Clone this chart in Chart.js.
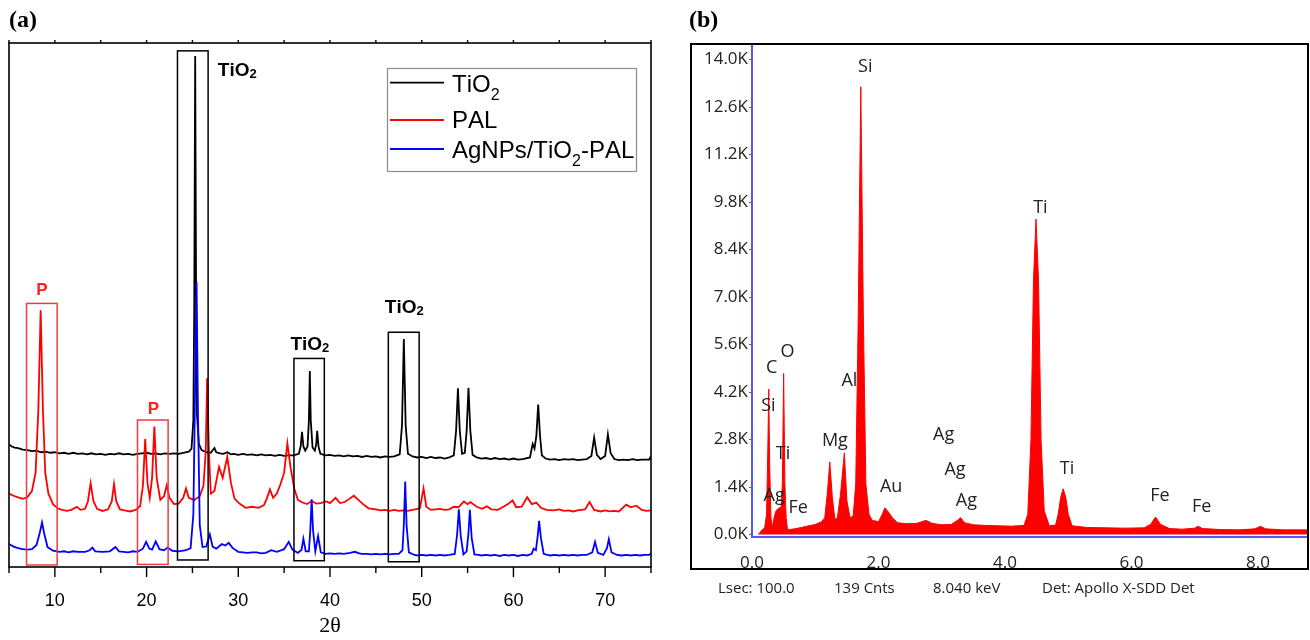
<!DOCTYPE html>
<html>
<head>
<meta charset="utf-8">
<script src="https://cdn.jsdelivr.net/npm/chart.js@4.4.1/dist/chart.umd.min.js"></script>
<style>
html,body{margin:0;padding:0;background:#fff;width:1310px;height:640px;overflow:hidden;}
#wrapA{position:absolute;left:0;top:0;width:660px;height:640px;}
#wrapB{position:absolute;left:690px;top:0;width:620px;height:640px;}
.plabel{position:absolute;font-family:'Liberation Serif','Times New Roman',serif;font-weight:bold;font-size:24px;line-height:1;color:#000;}
.foot{position:absolute;top:580px;font-family:'Open Sans',sans-serif;font-size:15px;color:#222;line-height:1;white-space:nowrap;}
</style>
</head>
<body>
<div id="wrapA"><canvas id="cA" width="660" height="640"></canvas></div>
<div id="wrapB"><canvas id="cB" width="620" height="640"></canvas></div>
<div class="plabel" style="left:9px;top:7px">(a)</div>
<div class="plabel" style="left:689px;top:7px">(b)</div>
<div class="foot" style="left:718px">Lsec: 100.0</div>
<div class="foot" style="left:834px">139 Cnts</div>
<div class="foot" style="left:933px">8.040 keV</div>
<div class="foot" style="left:1042px">Det: Apollo X-SDD Det</div>
<script>
// ---------------- DATA: panel (a) XRD (2θ, stacked intensity in arbitrary units) ----------------
const xrdTicks = [10, 20, 30, 40, 50, 60, 70];
const seriesNames = ['TiO₂', 'PAL', 'AgNPs/TiO₂-PAL'];
const seriesColors = ['#000000', '#ff0000', '#0000ff'];

const tio2 = [
  [5.0,23.4],[5.3,23.0],[5.6,22.8],[6.0,22.7],[6.5,22.4],[7.0,22.3],[7.5,22.1],[8.0,22.2],[8.5,21.9],[9.0,22.0],
  [9.5,21.8],[10,21.9],[10.5,21.7],[11,21.8],[11.5,21.6],[12,21.8],[12.5,21.6],[13,21.7],[13.5,21.5],[14,21.7],
  [14.5,21.5],[15,21.6],[15.5,21.4],[16,21.6],[16.5,21.5],[17,21.7],[17.5,21.5],[18,21.6],[18.5,21.4],[19,21.6],
  [19.5,21.7],[20,21.8],[20.5,21.6],[21,21.7],[21.5,21.5],[22,21.7],[22.5,21.6],[23,21.7],[23.5,21.6],[24,21.8],
  [24.6,22.0],[24.9,22.6],[25.1,28.0],[25.2,50.0],[25.3,97.5],[25.4,52.0],[25.5,29.0],[25.7,23.5],[26.0,22.3],
  [26.5,21.9],[27.0,21.8],[27.4,22.7],[27.6,21.9],[28.0,21.7],[28.4,21.6],[28.8,21.9],[29.2,21.5],[29.5,21.6],
  [30,21.4],[30.5,21.6],[31,21.4],[31.5,21.5],[32,21.3],[32.5,21.5],[33,21.3],[33.5,21.4],[34,21.2],[34.5,21.4],
  [35,21.2],[35.5,21.3],[36,21.3],[36.6,21.6],[36.8,23.0],[36.95,25.8],[37.1,23.0],[37.3,22.2],[37.55,23.0],
  [37.7,28.0],[37.8,37.4],[37.9,28.0],[38.1,22.8],[38.35,22.2],[38.5,23.5],[38.6,26.0],[38.75,23.0],[38.95,21.6],
  [39.5,21.3],[40,21.4],[40.5,21.2],[41,21.3],[41.5,21.1],[42,21.3],[42.5,21.1],[43,21.2],[43.5,21.0],[44,21.2],
  [44.5,21.0],[45,21.1],[45.5,20.9],[46,21.1],[46.5,21.0],[47,21.1],[47.6,21.5],[47.85,27.0],[48.05,43.5],
  [48.25,27.0],[48.5,21.6],[49,21.1],[49.5,20.9],[50,21.0],[50.5,20.8],[51,21.0],[51.5,20.8],[52,20.9],[52.5,20.7],
  [53,20.9],[53.5,21.3],[53.75,26.0],[53.95,34.1],[54.15,26.0],[54.4,21.6],[54.7,21.8],[54.9,26.0],[55.1,34.2],
  [55.3,26.0],[55.55,21.4],[56,20.9],[56.5,20.7],[57,20.8],[57.5,20.6],[58,20.8],[58.5,20.6],[59,20.7],[59.5,20.5],
  [60,20.7],[60.5,20.5],[61,20.6],[61.8,20.9],[62.1,23.5],[62.3,22.6],[62.5,25.0],[62.7,31.0],[62.9,25.0],
  [63.1,21.3],[63.5,20.7],[64,20.5],[64.5,20.6],[65,20.4],[65.5,20.6],[66,20.5],[66.5,20.6],[67,20.4],[67.5,20.5],
  [68,20.6],[68.5,21.2],[68.8,24.7],[69.1,21.4],[69.5,20.6],[70.0,21.2],[70.3,25.3],[70.6,21.7],[71,20.6],
  [71.5,20.4],[72,20.5],[72.5,20.4],[73,20.6],[73.5,20.4],[74,20.5],[74.8,20.5],[75,21.2]
];

const pal = [
  [5.0,14.0],[5.5,13.6],[6.0,13.3],[6.5,13.0],[7.0,13.3],[7.5,14.5],[7.9,18.0],[8.2,30.0],[8.45,49.0],[8.7,30.0],
  [8.95,18.0],[9.3,14.0],[9.8,12.0],[10.3,11.2],[10.8,10.9],[11.3,10.7],[11.8,10.9],[12.4,11.5],[12.8,10.9],
  [13.3,11.1],[13.6,12.5],[13.9,16.0],[14.2,12.6],[14.6,11.1],[15.2,10.7],[15.8,11.0],[16.2,12.5],[16.45,15.8],
  [16.7,12.5],[17.1,11.0],[17.6,10.8],[18.2,10.6],[18.8,10.9],[19.3,11.6],[19.6,15.5],[19.85,24.4],[20.1,16.0],
  [20.35,13.2],[20.6,17.0],[20.85,26.8],[21.1,17.0],[21.5,12.8],[21.9,13.5],[22.2,15.6],[22.5,13.2],[23.0,12.0],
  [23.5,12.1],[24.0,13.2],[24.3,15.0],[24.6,13.2],[25.2,12.8],[25.8,13.5],[26.2,15.5],[26.45,22.0],[26.6,36.0],
  [26.8,22.0],[27.0,14.0],[27.4,14.5],[27.9,19.1],[28.3,17.0],[28.8,21.0],[29.2,16.0],[29.6,13.0],[30.2,12.0],
  [30.8,11.3],[31.5,11.5],[32.2,11.3],[32.8,11.8],[33.1,13.0],[33.45,14.8],[33.8,13.2],[34.2,14.0],[34.6,15.8],
  [35.0,18.0],[35.35,23.6],[35.7,19.0],[36.1,15.0],[36.5,12.8],[37.0,12.3],[37.5,12.0],[38.0,12.6],[38.5,12.1],
  [39.0,12.2],[39.6,12.5],[40.0,12.2],[40.6,13.2],[41.1,12.2],[41.6,12.4],[42.1,13.0],[42.6,13.6],[43.1,12.8],
  [43.6,12.0],[44.2,11.2],[45,11.0],[45.5,10.8],[46,10.9],[46.5,10.7],[47,10.9],[47.5,10.7],[48,10.8],[48.5,10.7],
  [49,10.9],[49.8,11.2],[50.2,15.0],[50.5,11.5],[51,10.9],[51.5,11.0],[52,11.1],[52.5,10.9],[53,11.0],[53.5,11.5],
  [54,11.4],[54.6,12.5],[55.0,12.0],[55.3,12.4],[56,11.5],[56.6,11.1],[57.1,11.6],[57.6,11.0],[58.3,10.9],
  [59.0,11.6],[59.4,12.0],[59.9,12.7],[60.3,11.4],[60.9,11.5],[61.5,13.3],[62.0,12.0],[62.5,12.3],[63.0,11.3],
  [63.6,10.9],[64.3,10.8],[65,11.0],[65.5,10.7],[66,10.8],[66.5,10.6],[67,10.8],[67.8,11.0],[68.3,12.4],
  [68.8,10.9],[69.5,10.6],[70,10.8],[70.5,10.6],[71,10.7],[71.5,10.6],[72.3,11.9],[72.8,11.4],[73.4,11.7],
  [74,10.9],[74.5,10.7],[75,10.8]
];

const agTiPal = [
  [5.0,4.4],[5.5,3.9],[6.0,3.6],[6.5,3.4],[7.0,3.3],[7.5,3.4],[8.0,4.2],[8.35,6.5],[8.6,8.5],[8.85,6.3],[9.2,3.8],
  [9.8,3.1],[10.5,2.9],[11,3.0],[11.5,2.8],[12,3.0],[12.5,2.9],[13.3,2.9],[13.8,3.2],[14.1,3.7],[14.4,3.0],
  [15.2,2.9],[16.0,3.0],[16.6,3.8],[17.0,3.0],[17.5,2.9],[18,2.8],[18.5,3.0],[19,2.9],[19.6,3.5],[19.95,4.8],
  [20.3,3.5],[20.6,3.3],[21.0,4.9],[21.4,3.4],[21.9,3.2],[22.3,3.7],[22.8,3.1],[23.5,3.0],[24.3,3.2],[24.8,3.6],
  [25.1,10.0],[25.3,35.0],[25.45,54.4],[25.6,30.0],[25.8,8.0],[26.1,3.8],[26.5,3.9],[26.9,6.2],[27.2,3.9],
  [27.6,3.5],[28.2,4.4],[28.6,4.1],[28.95,4.6],[29.4,3.6],[30,2.9],[30.5,2.8],[31,2.7],[31.5,2.8],[32,2.8],
  [32.5,2.6],[33,2.7],[33.6,3.2],[34.2,2.9],[35.0,3.4],[35.5,4.8],[35.9,3.3],[36.5,2.7],[36.9,3.3],[37.1,5.4],
  [37.35,3.0],[37.7,3.0],[37.85,7.0],[38.0,12.9],[38.15,7.0],[38.4,3.0],[38.7,5.9],[39.0,2.8],[39.5,2.5],
  [40,2.6],[40.5,2.5],[41,2.6],[41.5,2.5],[42.2,2.7],[42.7,2.9],[43.2,2.6],[43.5,2.5],[44,2.5],[44.5,2.4],
  [45,2.5],[45.5,2.4],[46,2.5],[46.5,2.4],[47,2.5],[47.5,2.5],[47.9,3.2],[48.05,8.0],[48.2,16.3],[48.35,8.0],
  [48.6,2.8],[49.2,2.3],[49.6,2.2],[50,2.3],[50.5,2.2],[51,2.3],[51.5,2.2],[52,2.3],[52.5,2.2],[53,2.3],
  [53.6,2.5],[53.85,6.0],[54.05,11.0],[54.25,6.0],[54.55,2.4],[54.9,3.0],[55.1,6.5],[55.25,10.9],[55.45,5.5],
  [55.75,2.4],[56.2,2.3],[56.5,2.2],[57,2.3],[57.5,2.2],[58,2.3],[58.5,2.1],[59,2.3],[59.5,2.2],[60,2.3],
  [60.5,2.1],[61,2.3],[61.5,2.2],[62.0,2.5],[62.2,3.5],[62.45,3.2],[62.65,6.0],[62.8,8.8],[63.0,5.5],[63.3,2.5],
  [63.7,2.3],[64,2.2],[64.5,2.3],[65,2.2],[65.5,2.3],[66,2.2],[66.5,2.3],[67,2.2],[67.5,2.3],[68,2.3],[68.6,2.8],
  [68.9,4.8],[69.2,2.7],[69.8,2.3],[70.2,3.6],[70.4,5.3],[70.7,2.8],[71.3,2.3],[71.8,2.2],[72.3,2.3],[72.8,2.2],
  [73.3,2.3],[73.8,2.2],[74.3,2.3],[74.8,2.3],[75,2.6]
];

// ---------------- DATA: panel (b) EDS (keV, counts) ----------------
const edsKeVTicks = [0, 2, 4, 6, 8];
const edsCountTicks = [0, 1400, 2800, 4200, 5600, 7000, 8400, 9800, 11200, 12600, 14000];
const eds = [
  [0.10,0],[0.15,120],[0.20,200],[0.23,600],[0.25,2500],[0.265,4290],[0.28,2000],[0.30,500],[0.32,220],
  [0.35,500],[0.38,700],[0.42,780],[0.46,800],[0.48,1500],[0.50,4750],[0.52,1500],[0.54,500],[0.56,160],
  [0.60,150],[0.70,180],[0.80,220],[0.90,260],[1.00,300],[1.10,380],[1.15,500],[1.19,1200],[1.23,2140],
  [1.27,1100],[1.31,450],[1.35,500],[1.40,1200],[1.46,2410],[1.50,1000],[1.55,500],[1.60,550],[1.64,1500],
  [1.68,6500],[1.72,13200],[1.76,6500],[1.80,1500],[1.85,600],[1.90,420],[2.00,380],[2.06,600],[2.10,790],
  [2.15,680],[2.22,500],[2.30,350],[2.45,320],[2.60,330],[2.75,420],[2.85,330],[3.00,290],[3.15,300],[3.25,420],
  [3.30,500],[3.36,350],[3.50,290],[3.70,270],[3.90,260],[4.10,250],[4.30,270],[4.36,600],[4.41,2800],
  [4.45,7500],[4.49,9300],[4.53,7500],[4.57,2800],[4.62,700],[4.70,260],[4.80,280],[4.84,600],[4.88,1100],
  [4.92,1350],[4.96,1100],[5.00,600],[5.06,260],[5.30,210],[5.60,200],[5.90,190],[6.20,200],[6.30,300],
  [6.38,520],[6.46,300],[6.60,180],[6.80,160],[7.00,190],[7.05,250],[7.12,180],[7.40,150],[7.70,140],
  [7.95,170],[8.04,245],[8.12,170],[8.40,140],[8.79,140]
];
const edsPeakNames = ['Si','Ti','C','O','Si','Al','Mg','Ti','Ag','Fe','Au','Ag','Ag','Ag','Ti','Fe','Fe'];

// ---------------- annotation layout (not data) ----------------
const xrdBoxes = [
  {x0:6.91, x1:10.25, y0:0.38, y1:50.3, c:'rgb(240,60,60)'},
  {x0:19.01, x1:22.35, y0:0.5, y1:28.05, c:'rgb(240,60,60)'},
  {x0:23.37, x1:26.71, y0:1.34, y1:98.5, c:'#000'},
  {x0:36.07, x1:39.38, y0:1.2, y1:39.8, c:'#000'},
  {x0:46.36, x1:49.72, y0:1.0, y1:44.8, c:'#000'}
];
const xrdLabels = [
  {t:'P', x:8.58, y:51.9, align:'center', c:'#ff2020', size:17},
  {t:'P', x:20.74, y:29.2, align:'center', c:'#ff2020', size:17},
  {t:'TiO₂', x:27.77, y:93.7, align:'left', c:'#000', size:19},
  {t:'TiO₂', x:37.8, y:41.5, align:'center', c:'#000', size:19},
  {t:'TiO₂', x:48.1, y:48.5, align:'center', c:'#000', size:19}
];
const edsLabelPos = [
  [1.79,13800],[4.56,9640],[0.31,4912],[0.56,5373],[0.26,3801],[1.54,4519],[1.31,2750],[0.49,2387],
  [0.35,1149],[0.73,786],[2.20,1405],[3.03,2947],[3.21,1895],[3.39,982],[4.98,1936],[6.45,1149],[7.11,815]
];

function richWidth(ctx, text, font, subFont) {
  let w = 0;
  for (const ch of text) {
    const sub = ch === '₂';
    ctx.font = sub ? subFont : font;
    w += ctx.measureText(sub ? '2' : ch).width;
  }
  return w;
}
function drawRich(ctx, text, x, yBase, font, subFont, subDy, align) {
  const w = richWidth(ctx, text, font, subFont);
  let cx = align === 'center' ? x - w / 2 : x;
  ctx.textAlign = 'left';
  ctx.textBaseline = 'alphabetic';
  for (const ch of text) {
    const sub = ch === '₂';
    const s = sub ? '2' : ch;
    ctx.font = sub ? subFont : font;
    ctx.fillText(s, cx, yBase + (sub ? subDy : 0));
    cx += ctx.measureText(s).width;
  }
}

const xrdDecor = {
  id: 'xrdDecor',
  afterDraw(chart) {
    const {ctx, chartArea: a, scales: {x, y}} = chart;
    ctx.save();
    ctx.strokeStyle = '#000';
    ctx.lineWidth = 1.6;
    ctx.strokeRect(a.left, a.top, a.right - a.left, a.bottom - a.top);
    ctx.lineWidth = 1.4;
    for (let v = 5; v <= 75; v += 5) {
      const px = x.getPixelForValue(v);
      const len = v % 10 === 0 ? 10 : 6;
      ctx.beginPath(); ctx.moveTo(px, a.bottom); ctx.lineTo(px, a.bottom + len); ctx.stroke();
      ctx.beginPath(); ctx.moveTo(px, a.top); ctx.lineTo(px, a.top - 3); ctx.stroke();
    }
    ctx.lineWidth = 1.5;
    xrdBoxes.forEach(b => {
      const l = x.getPixelForValue(b.x0), r = x.getPixelForValue(b.x1);
      const t = y.getPixelForValue(b.y1), bt = y.getPixelForValue(b.y0);
      ctx.strokeStyle = b.c;
      ctx.strokeRect(l, t, r - l, bt - t);
    });
    xrdLabels.forEach(L => {
      ctx.fillStyle = L.c;
      const f = 'bold ' + L.size + 'px "Liberation Sans", Arial, sans-serif';
      const sf = 'bold ' + Math.round(L.size * 0.68) + 'px "Liberation Sans", Arial, sans-serif';
      drawRich(ctx, L.t, x.getPixelForValue(L.x), y.getPixelForValue(L.y), f, sf, 2, L.align);
    });
    const lg = {l: 387, t: 68, r: 636, b: 171, lineX0: 390, lineX1: 444, textX: 452,
                rows: [{ly: 82.7, by: 91.7}, {ly: 120, by: 128.3}, {ly: 149, by: 158.3}]};
    ctx.fillStyle = '#fff';
    ctx.fillRect(lg.l, lg.t, lg.r - lg.l, lg.b - lg.t);
    ctx.strokeStyle = '#8a8a8a';
    ctx.lineWidth = 1.2;
    ctx.strokeRect(lg.l + 0.5, lg.t + 0.5, lg.r - lg.l, lg.b - lg.t);
    chart.data.datasets.forEach((ds, i) => {
      const row = lg.rows[i];
      ctx.strokeStyle = ds.borderColor;
      ctx.lineWidth = 1.8;
      ctx.beginPath(); ctx.moveTo(lg.lineX0, row.ly); ctx.lineTo(lg.lineX1, row.ly); ctx.stroke();
      ctx.fillStyle = '#000';
      drawRich(ctx, ds.label, lg.textX, row.by, '24px "Liberation Sans", Arial, sans-serif',
               '16px "Liberation Sans", Arial, sans-serif', 8, 'left');
    });
    ctx.restore();
  }
};

const xrdDatasets = [tio2, pal, agTiPal].map((s, i) => ({
  label: seriesNames[i],
  data: s.map(p => ({x: p[0], y: p[1]})),
  borderColor: seriesColors[i],
  borderWidth: 1.8,
  pointRadius: 0,
  tension: 0,
  fill: false,
  order: 3 - i
}));

new Chart(document.getElementById('cA'), {
  type: 'line',
  data: {datasets: xrdDatasets},
  options: {
    responsive: false,
    animation: false,
    layout: {padding: {left: 9, right: 9, top: 43, bottom: 0}},
    plugins: {legend: {display: false}, tooltip: {enabled: false}},
    scales: {
      x: {
        type: 'linear', min: 5, max: 75,
        afterBuildTicks: ax => { ax.ticks = xrdTicks.map(v => ({value: v})); },
        afterFit: ax => { ax.height = 73; },
        grid: {display: false},
        border: {display: false},
        ticks: {padding: 15, color: '#000', font: {family: '"Liberation Sans", Arial, sans-serif', size: 18},
                maxRotation: 0, autoSkip: false},
        title: {display: true, text: '2θ', color: '#000', padding: {top: 0, bottom: 1},
                font: {family: '"Liberation Serif", "Times New Roman", serif', size: 22}}
      },
      y: {type: 'linear', min: 0, max: 100, display: false}
    }
  },
  plugins: [xrdDecor]
});

// ---------------- panel (b) ----------------
const edsDecor = {
  id: 'edsDecor',
  afterDraw(chart) {
    const {ctx, scales: {x, y}} = chart;
    ctx.save();
    ctx.fillStyle = '#222';
    ctx.font = '18px "Open Sans", "Noto Sans", sans-serif';
    ctx.textAlign = 'center';
    ctx.textBaseline = 'middle';
    edsPeakNames.forEach((n, i) => {
      ctx.fillText(n, x.getPixelForValue(edsLabelPos[i][0]), y.getPixelForValue(edsLabelPos[i][1]));
    });
    ctx.strokeStyle = '#000';
    ctx.lineWidth = 2;
    ctx.strokeRect(1, 44, 617, 525);
    ctx.restore();
  }
};

new Chart(document.getElementById('cB'), {
  type: 'line',
  data: {
    datasets: [{
      label: 'EDS',
      data: eds.map(p => ({x: p[0], y: p[1]})),
      borderColor: 'rgb(255,0,0)',
      backgroundColor: 'rgb(255,0,0)',
      borderWidth: 1,
      pointRadius: 0,
      tension: 0,
      fill: 'origin'
    }]
  },
  options: {
    responsive: false,
    animation: false,
    layout: {padding: {left: 0, right: 2, top: 45, bottom: 0}},
    plugins: {legend: {display: false}, tooltip: {enabled: false}},
    scales: {
      x: {
        type: 'linear', min: 0, max: 8.79,
        afterBuildTicks: ax => { ax.ticks = edsKeVTicks.map(v => ({value: v})); },
        afterFit: ax => { ax.height = 103; },
        grid: {display: false},
        border: {display: true, color: 'rgb(85,85,255)', width: 2},
        ticks: {padding: 8, color: '#222', font: {family: '"Open Sans", "Noto Sans", sans-serif', size: 17},
                maxRotation: 0, autoSkip: false, callback: v => Number(v).toFixed(1)}
      },
      y: {
        type: 'linear', min: -70, max: 14430,
        afterBuildTicks: ax => { ax.ticks = edsCountTicks.map(v => ({value: v})); },
        afterFit: ax => { ax.width = 62; },
        grid: {display: true, drawOnChartArea: false, drawTicks: true, tickLength: 3, color: '#666'},
        border: {display: true, color: 'rgb(85,85,255)', width: 2},
        ticks: {padding: 1, color: '#222', font: {family: '"Open Sans", "Noto Sans", sans-serif', size: 17},
                autoSkip: false, callback: v => (v / 1000).toFixed(1) + 'K'}
      }
    }
  },
  plugins: [edsDecor]
});
</script>
</body>
</html>
